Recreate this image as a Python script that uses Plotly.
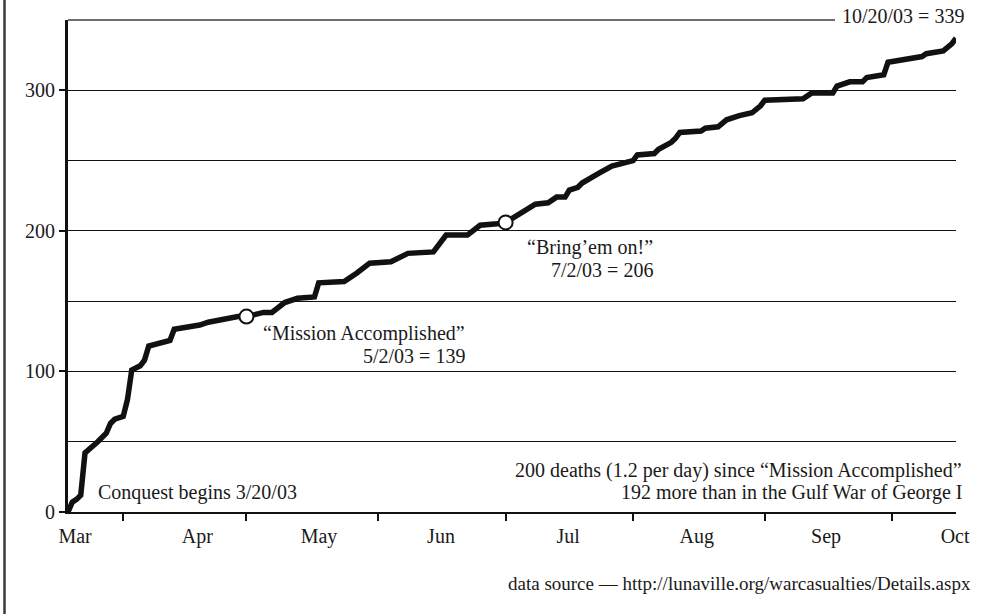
import plotly.graph_objects as go

# ---- data (cumulative US deaths, 2003) ----
dates = [
    "2003-03-21", "2003-03-22", "2003-03-23", "2003-03-24", "2003-03-25",
    "2003-03-27", "2003-03-28", "2003-03-30", "2003-03-31", "2003-04-01",
    "2003-04-03", "2003-04-04", "2003-04-05", "2003-04-07", "2003-04-08",
    "2003-04-09", "2003-04-12", "2003-04-14", "2003-04-15", "2003-04-17",
    "2003-04-21", "2003-04-23", "2003-04-26", "2003-04-28", "2003-04-30",
    "2003-05-02", "2003-05-06", "2003-05-08", "2003-05-11", "2003-05-14",
    "2003-05-18", "2003-05-19", "2003-05-25", "2003-05-28", "2003-05-31",
    "2003-06-05", "2003-06-09", "2003-06-15", "2003-06-16", "2003-06-17",
    "2003-06-18", "2003-06-23", "2003-06-26", "2003-06-30", "2003-07-02",
    "2003-07-09", "2003-07-12", "2003-07-14", "2003-07-16", "2003-07-17",
    "2003-07-19", "2003-07-20", "2003-07-22", "2003-07-24", "2003-07-27",
    "2003-07-29", "2003-08-01", "2003-08-02", "2003-08-06", "2003-08-07",
    "2003-08-10", "2003-08-11", "2003-08-12", "2003-08-17", "2003-08-18",
    "2003-08-21", "2003-08-23", "2003-08-26", "2003-08-29", "2003-08-31",
    "2003-09-01", "2003-09-10", "2003-09-12", "2003-09-17", "2003-09-18",
    "2003-09-21", "2003-09-24", "2003-09-25", "2003-09-29", "2003-09-30",
    "2003-10-05", "2003-10-08", "2003-10-09", "2003-10-13", "2003-10-15",
    "2003-10-16",
]
deaths = [
    0, 7, 9, 12, 42,
    47, 50, 56, 63, 66,
    68, 80, 101, 104, 108,
    118, 120, 122, 130, 131,
    133, 135, 137, 138, 139,
    139, 142, 142, 149, 152,
    153, 163, 164, 170, 177,
    178, 184, 185, 189, 193,
    197, 197, 204, 205, 206,
    219, 220, 224, 224, 229,
    231, 234, 238, 241, 246,
    248, 250, 254, 255, 258,
    263, 266, 270, 271, 273,
    274, 279, 282, 284, 289,
    293, 294, 298, 298, 303,
    306, 306, 309, 311, 320,
    322, 324, 326, 328, 333,
    337,
]

milestone_dates = ["2003-05-02", "2003-07-02"]
milestone_vals = [139, 206]

month_labels = ["Mar", "Apr", "May", "Jun", "Jul", "Aug", "Sep", "Oct"]
month_label_pos = [
    "2003-03-22 16:00", "2003-04-20 10:00", "2003-05-19 02:00", "2003-06-16 19:00",
    "2003-07-16 17:00", "2003-08-16 00:00", "2003-09-15 10:00", "2003-10-15 19:00",
]
month_ticks = ["2003-04-03", "2003-05-02", "2003-06-02", "2003-07-02",
               "2003-08-01", "2003-09-01", "2003-10-01"]
y_ticks = [0, 100, 200, 300]
y_minor = [50, 150, 250]

FONT = "Liberation Serif, Times New Roman, serif"
INK = "#1a1a1a"
FS = 20

W, H = 1002, 614
ML, MR, MT, MB = 68, 46, 20, 102
PW, PH = W - ML - MR, H - MT - MB


def px(x):
    return (x - ML) / PW


def py(y):
    return (H - MB - y) / PH


fig = go.Figure()
fig.add_trace(go.Scatter(
    x=dates, y=deaths, mode="lines",
    line=dict(color="#111111", width=5.5),
    hoverinfo="skip", showlegend=False,
))
fig.add_trace(go.Scatter(
    x=milestone_dates, y=milestone_vals, mode="markers",
    marker=dict(size=14, color="white", line=dict(color="#111111", width=2)),
    hoverinfo="skip", showlegend=False,
))

annotations = [
    ("Conquest begins 3/20/03", 96, 492, "left", FS),
    ("\u201cMission Accomplished\u201d", 467, 333, "right", FS),
    ("5/2/03 = 139", 467, 356, "right", FS),
    ("\u201cBring\u2019em on!\u201d", 655, 247, "right", FS),
    ("7/2/03 = 206", 655, 270, "right", FS),
    ("10/20/03 = 339", 966, 16, "right", FS),
    ("200 deaths (1.2 per day) since \u201cMission Accomplished\u201d", 964, 470, "right", FS),
    ("192 more than in the Gulf War of George I", 964, 492, "right", FS),
    ("data source \u2014 http://lunaville.org/warcasualties/Details.aspx", 973, 583, "right", 19),
]
for text, x, y, anchor, size in annotations:
    fig.add_annotation(
        text=text, x=px(x), y=py(y), xref="paper", yref="paper",
        xanchor=anchor, yanchor="middle", showarrow=False,
        font=dict(family=FONT, size=size, color=INK),
    )

# top gray rule and left border
fig.add_shape(type="line", xref="paper", yref="paper", x0=0, x1=px(835), y0=1, y1=1,
              line=dict(color="#6e6e6e", width=2))
fig.add_shape(type="line", xref="paper", yref="paper", x0=px(4.5), x1=px(4.5),
              y0=py(H), y1=py(0), line=dict(color="#3a3a3a", width=2.5))

fig.update_layout(
    width=W, height=H,
    margin=dict(l=ML, r=MR, t=MT, b=MB),
    paper_bgcolor="white", plot_bgcolor="white",
    font=dict(family=FONT, size=FS, color=INK),
    showlegend=False,
    hovermode=False,
    xaxis=dict(
        type="date",
        range=["2003-03-21", "2003-10-16"],
        tickmode="array", tickvals=month_label_pos, ticktext=month_labels,
        ticks="", showgrid=False, zeroline=False,
        showline=True, linecolor="#111111", linewidth=2,
        ticklabelstandoff=5,
        tickfont=dict(family=FONT, size=FS, color=INK),
        minor=dict(tickmode="array", tickvals=month_ticks, ticks="outside",
                   ticklen=7, tickwidth=2, tickcolor="#111111", showgrid=False),
    ),
    yaxis=dict(
        range=[0, 350],
        tickmode="array", tickvals=y_ticks,
        ticks="outside", ticklen=6, tickwidth=2, tickcolor="#111111",
        showgrid=True, gridcolor="#111111", gridwidth=1,
        zeroline=False,
        showline=True, linecolor="#111111", linewidth=3,
        ticklabelstandoff=0,
        tickfont=dict(family=FONT, size=FS, color=INK),
        minor=dict(tickmode="array", tickvals=y_minor, showgrid=True,
                   gridcolor="#111111", gridwidth=1, ticks=""),
    ),
)

fig.write_html(
    "out.html",
    config={"displayModeBar": False},
    post_script="document.body.style.margin='0px';document.body.style.overflow='hidden';",
)
